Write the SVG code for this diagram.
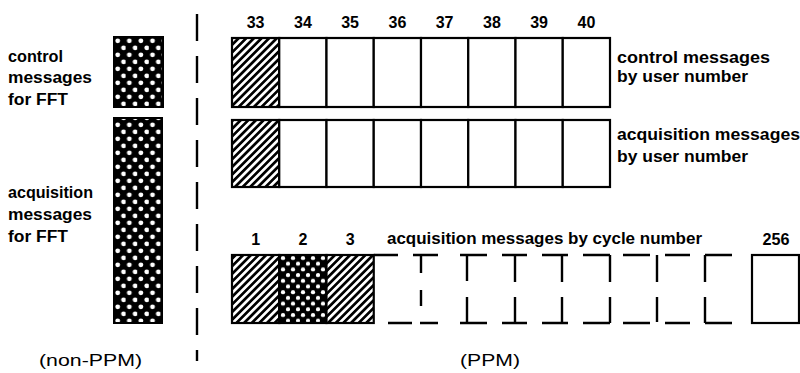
<svg xmlns="http://www.w3.org/2000/svg" width="800" height="373" viewBox="0 0 800 373">
<style>
.lbl{font-family:"Liberation Sans",Arial,sans-serif;font-weight:bold;font-size:16px;fill:#000}
.num{font-family:"Liberation Sans",Arial,sans-serif;font-weight:bold;font-size:16px;fill:#000;text-anchor:middle}
.cap{font-family:"Liberation Sans",Arial,sans-serif;font-size:17px;fill:#000}
.cell{fill:#fff;stroke:#000;stroke-width:2.2}
.hat{fill:url(#hatch);stroke:#000;stroke-width:2.2}
.dot{fill:url(#dots2);stroke:#000;stroke-width:2.2}
.dash{fill:none;stroke:#000;stroke-width:2.4;stroke-linecap:butt}
</style>
<defs>
<pattern id="hatch" width="5.4" height="5.4" patternUnits="userSpaceOnUse" patternTransform="rotate(45)">
<rect width="5.4" height="5.4" fill="#fff"/><rect width="2.7" height="5.4" fill="#000"/>
</pattern>
<pattern id="dots" width="11.6" height="14" patternUnits="userSpaceOnUse" x="114" y="37">
<rect width="11.6" height="14" fill="#000"/>
<circle cx="3.7" cy="3.8" r="2.4" fill="#fff"/><circle cx="9.5" cy="10.8" r="2.4" fill="#fff"/>
</pattern>
<pattern id="dots2" width="10" height="11.4" patternUnits="userSpaceOnUse" x="280" y="255">
<rect width="10" height="11.4" fill="#000"/>
<circle cx="3" cy="3" r="2.1" fill="#fff"/><circle cx="8" cy="8.7" r="2.1" fill="#fff"/>
</pattern>
</defs>

<g id="nonppm-control">
<rect x="114" y="37" width="49" height="70" fill="url(#dots)" stroke="#000" stroke-width="2"/>
<text class="lbl" x="8" y="62" textLength="55" lengthAdjust="spacingAndGlyphs">control</text>
<text class="lbl" x="8" y="83" textLength="84" lengthAdjust="spacingAndGlyphs">messages</text>
<text class="lbl" x="8" y="105" textLength="60" lengthAdjust="spacingAndGlyphs">for FFT</text>
</g>

<g id="nonppm-acquisition">
<rect x="114" y="118" width="48" height="205" fill="url(#dots)" stroke="#000" stroke-width="2"/>
<text class="lbl" x="8" y="198" textLength="85" lengthAdjust="spacingAndGlyphs">acquisition</text>
<text class="lbl" x="8" y="220" textLength="84" lengthAdjust="spacingAndGlyphs">messages</text>
<text class="lbl" x="8" y="242" textLength="60" lengthAdjust="spacingAndGlyphs">for FFT</text>
</g>

<g id="divider">
<line class="dash" x1="197" y1="14" x2="197" y2="361" stroke-dasharray="27 15"/>
</g>

<g id="control-by-user">
<g class="num">
<text x="255.6" y="28">33</text><text x="302.9" y="28">34</text><text x="350.1" y="28">35</text><text x="397.4" y="28">36</text>
<text x="444.6" y="28">37</text><text x="491.9" y="28">38</text><text x="539.1" y="28">39</text><text x="586.4" y="28">40</text>
</g>
<rect class="hat" x="232" y="38" width="47.25" height="69"/>
<rect class="cell" x="279.25" y="38" width="47.25" height="69"/>
<rect class="cell" x="326.5" y="38" width="47.25" height="69"/>
<rect class="cell" x="373.75" y="38" width="47.25" height="69"/>
<rect class="cell" x="421" y="38" width="47.25" height="69"/>
<rect class="cell" x="468.25" y="38" width="47.25" height="69"/>
<rect class="cell" x="515.5" y="38" width="47.25" height="69"/>
<rect class="cell" x="562.75" y="38" width="47.25" height="69"/>
<text class="lbl" x="617" y="63" textLength="153" lengthAdjust="spacingAndGlyphs">control messages</text>
<text class="lbl" x="617" y="82" textLength="131" lengthAdjust="spacingAndGlyphs">by user number</text>
</g>

<g id="acquisition-by-user">
<rect class="hat" x="232" y="120" width="47.25" height="67"/>
<rect class="cell" x="279.25" y="120" width="47.25" height="67"/>
<rect class="cell" x="326.5" y="120" width="47.25" height="67"/>
<rect class="cell" x="373.75" y="120" width="47.25" height="67"/>
<rect class="cell" x="421" y="120" width="47.25" height="67"/>
<rect class="cell" x="468.25" y="120" width="47.25" height="67"/>
<rect class="cell" x="515.5" y="120" width="47.25" height="67"/>
<rect class="cell" x="562.75" y="120" width="47.25" height="67"/>
<text class="lbl" x="617" y="140" textLength="183" lengthAdjust="spacingAndGlyphs">acquisition messages</text>
<text class="lbl" x="617" y="162" textLength="131" lengthAdjust="spacingAndGlyphs">by user number</text>
</g>

<g id="acquisition-by-cycle">
<g class="num">
<text x="255.6" y="245">1</text><text x="302.9" y="245">2</text><text x="350.1" y="245">3</text>
<text x="776" y="245" textLength="27" lengthAdjust="spacingAndGlyphs">256</text>
</g>
<text class="lbl" x="387" y="244" textLength="315" lengthAdjust="spacingAndGlyphs">acquisition messages by cycle number</text>
<rect class="hat" x="232" y="255" width="47.25" height="68"/>
<rect class="dot" x="279.25" y="255" width="47.25" height="68"/>
<rect class="hat" x="326.5" y="255" width="47.25" height="68"/>
<path class="dash" d="M373.75 255H398 M413 255H438 M460 255H487 M502 255H527 M542 255H568 M583 255H610 M623 255H650 M665 255H690 M705 255H732
M388 323H412 M420 323H438 M460 323H487 M502 323H527 M542 323H568 M583 323H610 M623 323H650 M665 323H690 M705 323H732
M421 255V273 M421 290V306 M467 255V281 M467 297V323 M515 255V282 M515 297V323 M562 255V282 M562 297V323
M610 255V282 M610 297V323 M657 255V282 M657 297V322 M705 255V282 M705 297V323"/>
<rect class="cell" x="752" y="255" width="47" height="68"/>
</g>

<g id="captions">
<text class="cap" x="39" y="366" textLength="103" lengthAdjust="spacingAndGlyphs">(non-PPM)</text>
<text class="cap" x="460" y="366" textLength="60" lengthAdjust="spacingAndGlyphs">(PPM)</text>
</g>
</svg>
